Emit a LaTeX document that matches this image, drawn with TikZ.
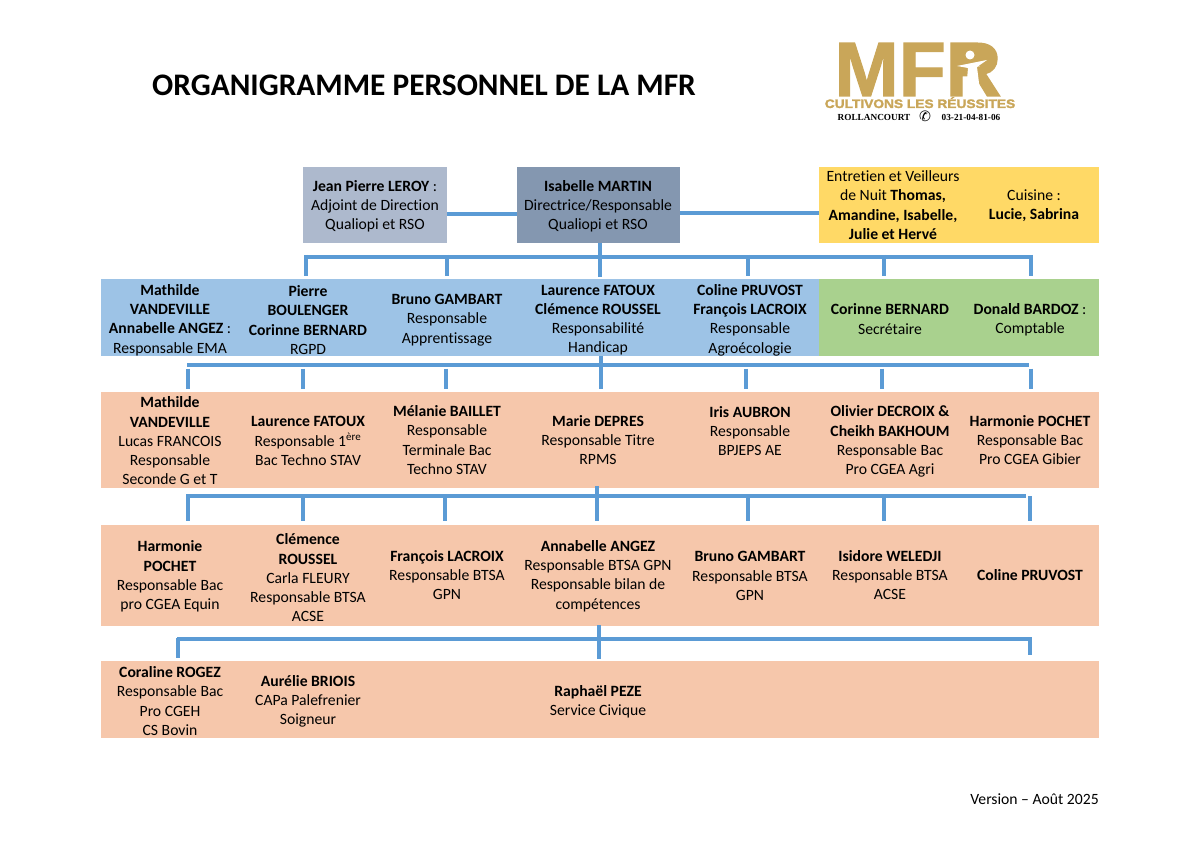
\documentclass[tikz,border=0pt]{standalone}
\usepackage{fontspec}
\setmainfont{Carlito}[Ligatures={TeX,NoCommon}]
\newfontfamily\logofont[FakeBold=1.5]{Liberation Sans}
\newfontfamily\devisefont[FakeBold=2,FakeStretch=1.12]{Liberation Sans}
\newfontfamily\telfont{Liberation Serif}
\newfontfamily\symfont{DejaVu Sans}
\usetikzlibrary{fit}
\definecolor{mfrgold}{HTML}{C9A659}
\definecolor{linkblue}{HTML}{5B9BD5}
\definecolor{adjgrey}{HTML}{ADB9CD}
\definecolor{dirgrey}{HTML}{8497B0}
\definecolor{yellowbox}{HTML}{FFD966}
\definecolor{bluebox}{HTML}{9DC3E6}
\definecolor{greenbox}{HTML}{A9D18E}
\definecolor{peachbox}{HTML}{F6C7AB}
\newcommand{\nm}[1]{\textbf{#1}}
\begin{document}
\begin{tikzpicture}[x=0.7017pt, y=-0.7017pt,
    band/.style={inner sep=0pt, outer sep=0pt},
    who/.style={inner sep=0pt, align=center, text=black, font=\fontsize{11}{13.5}\selectfont},
    link/.style={draw=linkblue, line width=2.5pt},
    tick/.style={link, shorten <=2.6pt, shorten >=2.4pt}]

  \useasboundingbox (0,0) rectangle (1200,849);

  % --- Titre ---
  \node[inner sep=0pt, font=\fontsize{22}{26}\selectfont\bfseries] (titre) at (424,85)
      {ORGANIGRAMME PERSONNEL DE LA MFR};
  \node[who, anchor=east] (version) at (1099,799) {Version – Août 2025};

  % --- Logo ---
  \node[inner sep=0pt, text depth=0pt, anchor=base, text=mfrgold, font=\logofont\fontsize{54}{54}\selectfont\bfseries] (logo) at (918,96) {MFR};
  \fill[mfrgold] (957,50) rectangle (986,66);
  \fill[white] (970,55) circle (4.5);
  \fill[white] (957,66) -- (987,60) -- (977,67) -- (980,91) -- (976,91) -- (971,80) -- (969,91) -- (966,91) -- (968,68) -- cycle;
  \node[inner sep=0pt, text depth=0pt, anchor=base, text=mfrgold, font=\devisefont\fontsize{8.6}{8.6}\selectfont\bfseries] (devise) at (920,108) {CULTIVONS LES RÉUSSITES};
  \node[inner sep=0pt, font=\telfont\fontsize{6.5}{8}\selectfont\bfseries] (ville) at (874,117) {ROLLANCOURT};
  \node[inner sep=0pt, font=\symfont\fontsize{10}{10}\selectfont] (tel) at (925,116) {✆};
  \node[inner sep=0pt, font=\telfont\fontsize{6.5}{8}\selectfont\bfseries] (numero) at (971,117) {03-21-04-81-06};

  % --- Bandes ---
  \node[band, fill=adjgrey, fit={(303,167)(447,243)}] (adjoint) {};
  \node[band, fill=dirgrey, fit={(517,167)(680,243)}] (directrice) {};
  \node[band, fill=yellowbox, fit={(819,167)(1099,243)}] (services) {};
  \node[band, fill=bluebox, fit={(101,279)(819,356)}] (rangbleu) {};
  \node[band, fill=greenbox, fit={(819,279)(1099,356)}] (rangvert) {};
  \node[band, fill=peachbox, fit={(101,392)(1099,488)}] (rangtrois) {};
  \node[band, fill=peachbox, fit={(101,525)(1099,626)}] (rangquatre) {};
  \node[band, fill=peachbox, fit={(101,661)(1099,738)}] (rangcinq) {};

  % --- Direction ---
  \node[who] (leroy) at (375,206.5) {\nm{Jean Pierre LEROY} :\\Adjoint de Direction\\Qualiopi et RSO};
  \node[who] (martin) at (598,206.5) {\nm{Isabelle MARTIN}\\Directrice/Responsable\\Qualiopi et RSO};
  \node[who] (entretien) at (893,205) {Entretien et Veilleurs\\de Nuit \nm{Thomas,}\\\nm{Amandine, Isabelle,}\\\nm{Julie et Hervé}};
  \node[who] (cuisine) at (1034,206) {Cuisine :\\\nm{Lucie, Sabrina}};

  % --- Rang 2 ---
  \node[who] (mathilde) at (170,320) {\nm{Mathilde}\\\nm{VANDEVILLE}\\\nm{Annabelle ANGEZ} :\\Responsable EMA};
  \node[who] (pierre) at (308,320) {\nm{Pierre}\\\nm{BOULENGER}\\\nm{Corinne BERNARD}\\RGPD};
  \node[who] (bruno) at (447,320) {\nm{Bruno GAMBART}\\Responsable\\Apprentissage};
  \node[who] (laurence) at (598,320) {\nm{Laurence FATOUX}\\\nm{Clémence ROUSSEL}\\Responsabilité\\Handicap};
  \node[who] (coline) at (750,320) {\nm{Coline PRUVOST}\\\nm{François LACROIX}\\Responsable\\Agroécologie};
  \node[who] (corinne) at (890,319) {\nm{Corinne BERNARD}\\Secrétaire};
  \node[who] (donald) at (1030,320) {\nm{Donald BARDOZ} :\\Comptable};

  % --- Rang 3 ---
  \node[who] (mathildeb) at (170,441) {\nm{Mathilde}\\\nm{VANDEVILLE}\\Lucas FRANCOIS\\Responsable\\Seconde G et T};
  \node[who] (laurenceb) at (308,441) {\nm{Laurence FATOUX}\\Responsable 1\textsuperscript{ère}\\Bac Techno STAV};
  \node[who] (melanie) at (447,440) {\nm{Mélanie BAILLET}\\Responsable\\Terminale Bac\\Techno STAV};
  \node[who] (marie) at (598,440) {\nm{Marie DEPRES}\\Responsable Titre\\RPMS};
  \node[who] (iris) at (750,431) {\nm{Iris AUBRON}\\Responsable\\BPJEPS AE};
  \node[who] (olivier) at (890,441.5) {\nm{Olivier DECROIX \&}\\\nm{Cheikh BAKHOUM}\\Responsable Bac\\Pro CGEA Agri};
  \node[who] (harmonie) at (1030,440) {\nm{Harmonie POCHET}\\Responsable Bac\\Pro CGEA Gibier};

  % --- Rang 4 ---
  \node[who] (harmonieb) at (170,576.5) {\nm{Harmonie}\\\nm{POCHET}\\Responsable Bac\\pro CGEA Equin};
  \node[who] (clemence) at (308,578) {\nm{Clémence}\\\nm{ROUSSEL}\\Carla FLEURY\\Responsable BTSA\\ACSE};
  \node[who] (francois) at (447,575) {\nm{François LACROIX}\\Responsable BTSA\\GPN};
  \node[who] (annabelle) at (598,576) {\nm{Annabelle ANGEZ}\\Responsable BTSA GPN\\Responsable bilan de\\compétences};
  \node[who] (brunob) at (750,576) {\nm{Bruno GAMBART}\\Responsable BTSA\\GPN};
  \node[who] (isidore) at (890,575) {\nm{Isidore WELEDJI}\\Responsable BTSA\\ACSE};
  \node[who] (colineb) at (1030,575) {\nm{Coline PRUVOST}};

  % --- Rang 5 ---
  \node[who] (coraline) at (170,701) {\nm{Coraline ROGEZ}\\Responsable Bac\\Pro CGEH\\CS Bovin};
  \node[who] (aurelie) at (308,701.5) {\nm{Aurélie BRIOIS}\\CAPa Palefrenier\\Soigneur};
  \node[who] (raphael) at (598,701.5) {\nm{Raphaël PEZE}\\Service Civique};

  % --- Liaisons de la direction ---
  \draw[link] (adjoint.east |- 0,214) -- (directrice.west |- 0,214);
  \draw[link] (directrice.east |- 0,213) -- (services.west |- 0,213);
  \coordinate (piedmartin) at (600,243);
  \draw[link, shorten >=1.2pt] (piedmartin) -- (piedmartin |- rangbleu.north);

  % --- Barres horizontales et traits ---
  \coordinate (barreAg) at (305,257);
  \coordinate (barreAd) at (1031,257);
  \draw[link] (barreAg) -- (barreAd);
  \foreach \nomt/\tx in {ta1/306,ta2/447,ta3/748,ta4/884,ta5/1031} {
    \coordinate (\nomt) at (\tx,255);
    \draw[link, shorten >=2.4pt] (\nomt) -- (\nomt |- rangbleu.north);
  }

  \coordinate (barreBg) at (187,365);
  \coordinate (barreBd) at (1029,365);
  \draw[link] (barreBg) -- (barreBd);
  \foreach \nomt/\tx in {tb1/188,tb2/303,tb3/446,tb4/746,tb5/882,tb6/1031} {
    \coordinate (\nomt) at (\tx,365);
    \draw[tick] (\nomt) -- (\nomt |- rangtrois.north);
  }
  \coordinate (piedB) at (601,356);
  \draw[link, shorten >=2.4pt] (piedB) -- (piedB |- rangtrois.north);

  \coordinate (barreCg) at (186,496);
  \coordinate (barreCd) at (1026,496);
  \draw[link] (barreCg) -- (barreCd);
  \foreach \nomt/\tx in {tc1/188,tc2/303,tc3/445,tc4/748,tc5/884,tc6/1030} {
    \coordinate (\nomt) at (\tx,496);
    \draw[link, shorten >=3pt] (\nomt) -- (\nomt |- rangquatre.north);
  }
  \coordinate (piedC) at (597,486);
  \draw[link, shorten >=3pt] (piedC) -- (piedC |- rangquatre.north);

  \coordinate (barreDg) at (177,639);
  \coordinate (barreDd) at (1031,639);
  \draw[link] (barreDg) -- (barreDd);
  \coordinate (td1) at (178,638);
  \draw[link, shorten >=2pt] (td1) -- (td1 |- rangcinq.north);
  \coordinate (td2) at (1030,637);
  \draw[link, shorten >=4pt] (td2) -- (td2 |- rangcinq.north);
  \coordinate (piedD) at (599,625);
  \draw[link, shorten >=1.4pt] (piedD) -- (piedD |- rangcinq.north);

\end{tikzpicture}
\end{document}
